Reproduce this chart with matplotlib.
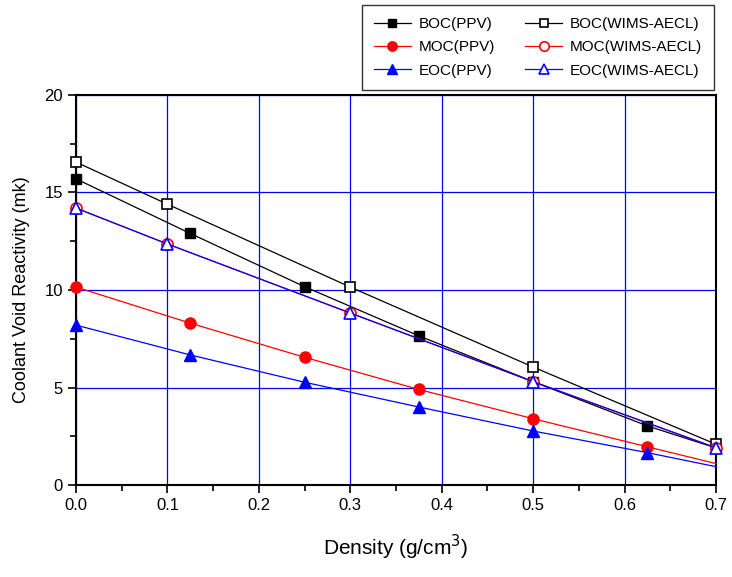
import matplotlib.pyplot as plt
from matplotlib.ticker import MultipleLocator

plt.rcParams['font.family'] = ['Liberation Sans', 'DejaVu Sans']

# PPV results (markers drawn at the first six points, line runs to 0.7)
density_ppv = [0.0, 0.125, 0.25, 0.375, 0.5, 0.625, 0.7]
boc_ppv = [15.7, 12.9, 10.17, 7.65, 5.3, 3.03, 1.9]
moc_ppv = [10.15, 8.3, 6.55, 4.9, 3.4, 1.96, 1.1]
eoc_ppv = [8.2, 6.67, 5.27, 4.0, 2.77, 1.66, 0.94]

# WIMS-AECL results
density_wims = [0.0, 0.1, 0.3, 0.5, 0.7]
boc_wims = [16.56, 14.4, 10.15, 6.05, 2.09]
moc_wims = [14.2, 12.36, 8.82, 5.3, 1.91]
eoc_wims = [14.2, 12.36, 8.82, 5.3, 1.91]

fig = plt.figure(figsize=(7.32, 5.77), dpi=100)
ax = fig.add_axes([0.1038, 0.1594, 0.8743, 0.676])

ms = 7.5
lw = 0.9
ppv_marks = list(range(6))

l1, = ax.plot(density_ppv, boc_ppv, '-', color='black', lw=lw, marker='s', ms=ms,
              mfc='black', mec='black', markevery=ppv_marks, label='BOC(PPV)', zorder=3)
l2, = ax.plot(density_wims, boc_wims, '-', color='black', lw=lw, marker='s', ms=ms,
              mfc='white', mec='black', mew=1.2, label='BOC(WIMS-AECL)', zorder=3)
l3, = ax.plot(density_ppv, moc_ppv, '-', color='red', lw=lw, marker='o', ms=ms + 0.5,
              mfc='red', mec='red', markevery=ppv_marks, label='MOC(PPV)', zorder=3)
l4, = ax.plot(density_wims, moc_wims, '-', color='red', lw=lw, marker='o', ms=ms + 0.5,
              mfc='white', mec='red', mew=1.2, label='MOC(WIMS-AECL)', zorder=3)
l5, = ax.plot(density_ppv, eoc_ppv, '-', color='blue', lw=lw, marker='^', ms=ms + 1,
              mfc='blue', mec='blue', markevery=ppv_marks, label='EOC(PPV)', zorder=3)
l6, = ax.plot(density_wims, eoc_wims, '-', color='blue', lw=lw, marker='^', ms=ms + 1,
              mfc='white', mec='blue', mew=1.2, label='EOC(WIMS-AECL)', zorder=3)
for ln in (l1, l2, l3, l4, l5, l6):
    ln.set_clip_on(False)

ax.set_xlim(0, 0.7)
ax.set_ylim(0, 20)
ax.xaxis.set_major_locator(MultipleLocator(0.1))
ax.xaxis.set_minor_locator(MultipleLocator(0.05))
ax.yaxis.set_major_locator(MultipleLocator(5))
ax.yaxis.set_minor_locator(MultipleLocator(2.5))
ax.set_xticklabels(['%.1f' % v for v in ax.get_xticks()])
ax.grid(True, which='major', color='blue', lw=0.9)
ax.set_axisbelow(True)

for s in ax.spines.values():
    s.set_linewidth(1.5)
ax.tick_params(which='both', direction='out', top=False, right=False, width=1.2, labelsize=12)
ax.tick_params(which='major', length=6)
ax.tick_params(which='minor', length=4)

ax.set_xlabel('Density (g/cm$^3$)', fontsize=15, labelpad=14)
ax.set_ylabel('Coolant Void Reactivity (mk)', fontsize=13, labelpad=10)

# matplotlib fills legend columns first, so order handles to read row by row
handles = [l1, l3, l5, l2, l4, l6]
leg = fig.legend(handles, [h.get_label() for h in handles], ncol=2,
                 loc='upper right', bbox_to_anchor=(714 / 732, 1 - 5 / 577),
                 fontsize=11, frameon=True, fancybox=False, edgecolor='black',
                 handlelength=2.4, handletextpad=0.5, columnspacing=2.0,
                 labelspacing=0.6, borderpad=0.8, borderaxespad=0,
                 markerscale=0.85)
leg.get_frame().set_linewidth(1.0)

fig.savefig('out.png', dpi=100)
